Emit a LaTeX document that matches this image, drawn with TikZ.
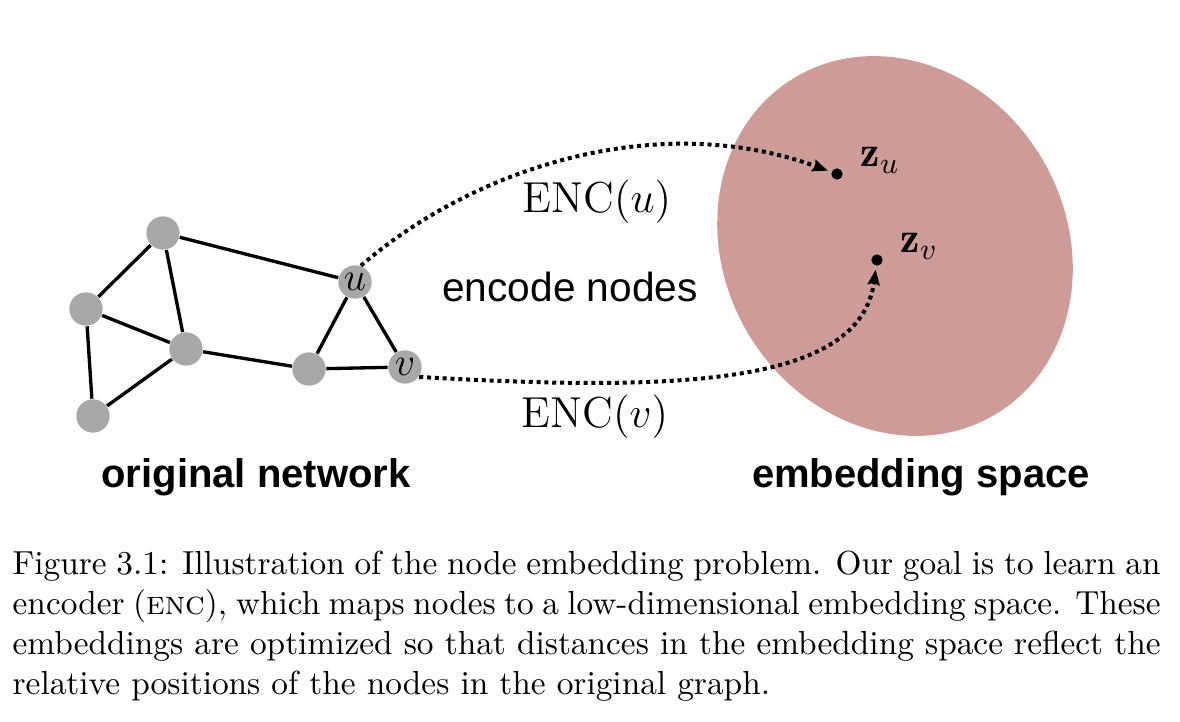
\documentclass[tikz,border=0pt]{standalone}
\usepackage{fix-cm}
\usepackage{fontspec}
\setsansfont{Liberation Sans}
\usetikzlibrary{arrows.meta}
\definecolor{nodegray}{RGB}{166,169,167}
\definecolor{embred}{RGB}{205,156,152}
\begin{document}
\begin{tikzpicture}[
        x=0.3pt, y=-0.3pt,
        gnode/.style={circle, fill=nodegray, minimum size=10pt, inner sep=0pt, font=\fontsize{12}{14}\selectfont},
        link/.style={line width=1pt},
        zdot/.style={circle, fill=black, minimum size=3.4pt, inner sep=0pt},
        enc/.style={line width=1.2pt, dash pattern=on 1.2pt off 1.15pt, -{Stealth[length=4.6pt, width=3.6pt, inset=0.6pt]}, shorten >=1pt},
        mathlab/.style={anchor=base, font=\fontsize{13}{15}\selectfont},
        zlab/.style={anchor=base west, font=\fontsize{13}{15}\selectfont},
        title/.style={anchor=base, font=\sffamily\bfseries\fontsize{12}{14}\selectfont}
    ]
    \useasboundingbox (0,0) rectangle (1180,722);

    % --- RIGHT: embedding space ---
    \fill[embred, rotate around={-59.5:(895,246)}] (895,246) ellipse [x radius=196, y radius=171];

    % --- LEFT: original network ---
    \node[gnode] (a) at (163,233) {};
    \node[gnode] (b) at (86,309) {};
    \node[gnode] (c) at (186,349) {};
    \node[gnode] (d) at (93,416) {};
    \node[gnode] (e) at (309,369) {};
    \node[gnode] (u) at (355,282) {$u$};
    \node[gnode] (v) at (405,367) {$v$};
    \draw[link] (a) -- (b) (a) -- (c) (a) -- (u) (b) -- (c) (b) -- (d)
        (c) -- (d) (c) -- (e) (e) -- (u) (e) -- (v) (u) -- (v);

    % --- embeddings ---
    \node[zdot] (zu) at (837,174) {};
    \node[zdot] (zv) at (877,260) {};
    \node[zlab] (zulab) at (849,167) {$\mathbf{z}_u$};
    \node[zlab] (zvlab) at (889,253) {$\mathbf{z}_v$};
    \draw[enc] (u.70) .. controls (475,167) and (658,109) .. (zu);
    \draw[enc] (v.-35) .. controls (680,392) and (860,385) .. (zv);
    \node[mathlab] (encu) at (597,213) {$\mathrm{ENC}(u)$};
    \node[mathlab] (encv) at (595,428) {$\mathrm{ENC}(v)$};
    \node[anchor=base, font=\sffamily\fontsize{12.2}{14}\selectfont] (encnodes) at (570,302) {encode nodes};

    % --- titles and caption ---
    \node[title] (orig) at (256,488) {original network};
    \node[title] (embsp) at (921,488) {embedding space};
    \node[anchor=north west, inner sep=0pt, text width=344.4pt, align=justify, font=\fontsize{10}{12}\selectfont] (cap) at (12,550)
        {Figure 3.1: Illustration of the node embedding problem. Our goal is to learn an encoder (\textsc{enc}), which maps nodes to a low-dimensional embedding space. These embeddings are optimized so that distances in the embedding space reflect the relative positions of the nodes in the original graph.};
\end{tikzpicture}
\end{document}
